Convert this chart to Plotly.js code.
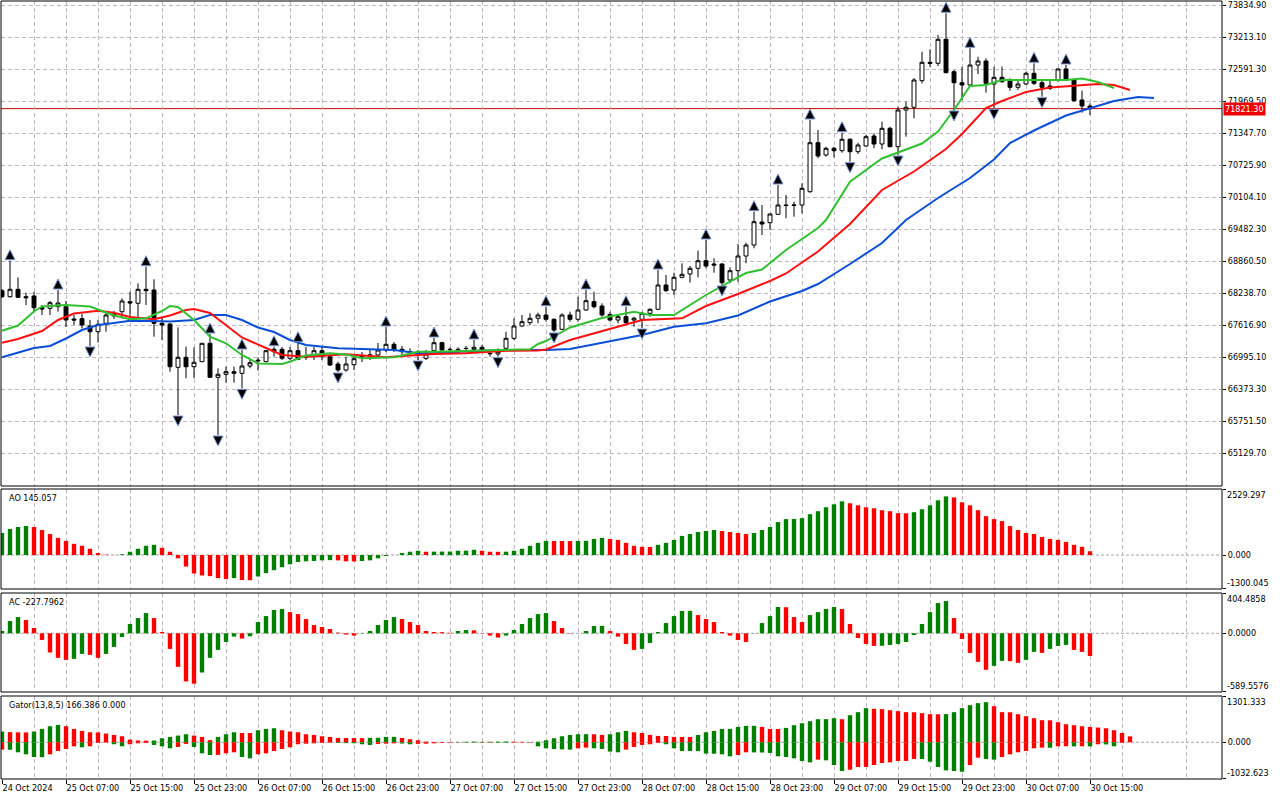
<!DOCTYPE html>
<html><head><meta charset="utf-8">
<script src="https://cdn.plot.ly/plotly-3.0.1.min.js"></script>
<style>html,body{margin:0;padding:0;background:#fff}#chart{width:1280px;height:800px}</style>
</head><body><div id="chart"></div>
<script>
// ---------- DATA (BTC H1) ----------
const timeLabels = ["24 Oct 2024","25 Oct 07:00","25 Oct 15:00","25 Oct 23:00","26 Oct 07:00","26 Oct 15:00","26 Oct 23:00","27 Oct 07:00","27 Oct 15:00","27 Oct 23:00","28 Oct 07:00","28 Oct 15:00","28 Oct 23:00","29 Oct 07:00","29 Oct 15:00","29 Oct 23:00","30 Oct 07:00","30 Oct 15:00"];
const priceTicks = [73834.90,73213.10,72591.30,71969.50,71347.70,70725.90,70104.10,69482.30,68860.50,68238.70,67616.90,66995.10,66373.30,65751.50,65129.70];
const lastPrice = 71821.30;
const aoScale = [2529.297, -1300.045];
const acScale = [404.4858, -589.5576];
const gatorScale = [1301.333, -1032.623];

const open = [68283.5,68166.9,68310.7,68166.9,68180.5,67953.2,67941.5,67972.6,67972.6,67733.6,
67739.5,67597.6,67486.8,67650.1,67791.9,67875.5,68069.8,68038.7,68310.7,68297.1,
67650.1,67636.5,66795.1,66989.4,66806.7,66903.9,67261.4,66600.8,66659.1,66709.6,
66678.5,66820.4,66917.5,66903.9,67144.8,67144.8,66969.9,67117.6,67001.1,67001.1,
67117.6,67001.1,66859.2,66742.6,66845.6,66995.2,67014.7,67034.1,67131.2,67242.0,
67144.8,67098.2,67053.5,66969.9,67117.6,67273.1,67144.8,67144.8,67164.3,67144.8,
67183.7,67067.2,67053.5,67164.3,67358.6,67597.6,67661.7,67747.2,67811.3,67727.8,
67533.5,67811.3,67727.8,67908.5,68069.8,67986.2,67821.9,67714.2,67778.3,67714.2,
67727.8,67844.4,67922.1,68394.3,68297.1,68543.9,68608.0,68718.8,68866.4,68802.3,
68802.3,68491.4,68672.1,68957.8,69171.5,69618.4,69604.8,69768.0,69948.7,69939.0,
69948.7,70207.2,71159.3,70920.3,71050.5,71003.8,71225.4,70984.4,71095.2,71289.5,
71134.0,71439.2,71081.6,71794.7,71847.2,72364.0,72721.5,72702.1,73168.5,72538.9,
72325.2,72280.5,72669.1,72746.8,72299.9,72430.1,72364.0,72235.8,72299.9,72507.8,
72325.2,72261.0,72377.6,72591.4,72377.6,71989.0,71872.4];
const high = [68316.5,68866.4,68543.9,68244.6,68264.1,68005.6,68083.4,68297.1,68083.4,67811.3,
67830.8,67714.2,67714.2,67875.5,67889.1,68135.8,68264.1,68427.3,68749.9,68505.0,
67753.0,67650.0,67572.3,67195.4,67183.7,67267.3,67442.1,66775.7,66806.7,66806.7,
67131.2,66936.9,66989.4,67131.2,67195.4,67189.5,67189.5,67273.1,67189.5,67189.5,
67189.5,67034.1,66903.9,67001.1,67034.1,67092.4,67131.2,67267.3,67578.2,67286.7,
67209.0,67164.3,67131.2,67131.2,67364.4,67292.5,67183.7,67183.7,67209.0,67325.6,
67228.4,67131.2,67164.3,67486.8,67747.2,67811.3,67844.4,67856.0,67972.6,67747.2,
67844.4,67875.5,68166.9,68297.1,68264.1,68038.7,67875.5,67811.3,67972.6,67778.3,
67875.5,67941.5,68685.7,68588.6,68633.3,68815.9,68763.5,69060.7,69268.7,68913.1,
68815.9,68738.2,69190.9,69216.1,69818.6,69948.7,69787.5,70337.4,70143.1,70012.9,
70370.4,71600.4,71406.1,71081.6,71081.6,71353.6,71244.8,71159.3,71308.9,71341.9,
71567.3,71470.2,71858.8,71956.0,72410.7,72927.5,72974.2,73252.0,73673.7,72571.9,
72636.1,72993.6,72830.4,72799.3,72636.1,72636.1,72410.7,72377.6,72538.9,72702.1,
72377.6,72377.6,72605.0,72669.1,72391.2,72169.7,71924.9];
const low = [68141.7,68151.4,68141.7,68005.6,67875.5,67811.3,67811.3,67875.5,67578.2,67617.0,
67552.9,67209.0,67273.1,67486.8,67733.6,67747.2,67778.3,67747.2,68005.6,67389.7,
67325.6,66709.6,65868.2,66581.3,66581.3,66898.1,66587.2,65479.6,66495.9,66495.9,
66387.0,66775.7,66729.0,66898.1,67001.1,66936.9,66936.9,66936.9,66936.9,66936.9,
66936.9,66820.4,66703.8,66709.6,66742.6,66898.1,66936.9,66975.8,67092.4,67092.4,
67034.1,67034.1,66936.9,66936.9,67067.2,67034.1,67098.2,67067.2,67098.2,67098.2,
67092.4,67001.1,67001.1,67131.2,67325.6,67584.0,67617.0,67650.1,67681.2,67481.0,
67519.9,67681.2,67681.2,67894.9,67941.5,67778.3,67681.2,67650.1,67636.5,67584.0,
67558.7,67778.3,67908.5,68264.1,68200.0,68524.4,68439.0,68543.9,68718.8,68633.3,
68394.3,68427.3,68458.4,68815.9,69107.4,69365.8,69463.0,69754.4,69690.3,69721.4,
69787.5,70187.7,70856.2,70887.3,70875.6,70965.0,70790.1,70939.7,71081.6,71050.5,
71031.1,71069.9,70920.3,71275.9,71633.4,72313.5,72636.1,72649.7,72510.0,71794.7,
71989.0,72261.0,72494.2,72130.8,71827.7,72325.2,72169.7,72183.3,72280.5,72280.5,
72053.1,72183.3,72344.6,72364.0,71956.0,71742.2,71697.5];
const close = [68166.9,68310.7,68155.3,68147.5,67953.2,67927.9,68050.3,68044.5,67714.2,67714.2,
67617.0,67486.8,67630.6,67811.3,67830.8,68083.4,68044.5,68310.7,68283.5,67650.1,
67617.0,66806.7,66989.4,66806.7,66892.2,67261.4,66600.8,66659.1,66709.6,66678.5,
66820.4,66884.5,66931.1,67117.6,67098.2,66969.9,67117.6,66950.5,66989.4,67117.6,
67001.1,66839.8,66742.6,66859.2,66962.2,67014.7,67034.1,67131.2,67242.0,67131.2,
67098.2,67086.6,67092.4,67053.5,67273.1,67131.2,67140.0,67137.1,67160.0,67183.7,
67117.6,67059.3,67098.2,67358.6,67597.6,67681.2,67747.2,67811.3,67727.8,67519.9,
67811.3,67727.8,67908.5,68089.2,67972.6,67811.3,67714.2,67778.3,67661.7,67747.2,
67844.4,67922.1,68394.3,68283.5,68543.9,68602.1,68718.8,68866.4,68763.5,68782.9,
68439.0,68672.1,68957.8,69171.5,69624.2,69579.6,69773.9,69948.7,69939.0,69948.7,
70273.2,71159.3,70900.9,71050.5,71003.8,71225.4,70984.4,71114.6,71275.9,71134.0,
71439.2,71081.6,71794.7,71847.2,72377.6,72721.5,72702.1,73168.5,72519.5,72325.2,
72280.5,72669.1,72746.8,72313.5,72430.1,72344.6,72235.8,72299.9,72507.8,72313.5,
72235.8,72216.3,72591.4,72377.6,71975.4,71872.4,71821.3];

// Alligator (jaw / teeth / lips), sampled along the drawn lines
const jawX = [0,4,6,8,10,12,14,16,19,21,24,26,28,30,32,34,36,38,42,45,49,52,54,57,60,66,68,71,75,80,84,88,92,96,100,102,106,110,113,117,121,124,126,129,133,136,139,142,144];
const jawY = [66989.4,67170.1,67209.0,67354.7,67519.9,67617.0,67655.9,67698.6,67694.7,67685.0,67714.2,67811.3,67811.3,67714.2,67568.4,67481.0,67325.6,67228.4,67164.3,67144.8,67131.2,67067.2,67067.2,67098.2,67117.6,67131.2,67131.2,67150.7,67277.0,67422.7,67584.0,67650.1,67801.6,68073.6,68277.7,68413.7,68802.3,69210.4,69657.3,70084.8,70473.4,70832.9,71153.5,71396.4,71687.8,71827.7,71969.6,72047.3,72027.9];
const teethX = [0,2,5,7,9,12,14,16,19,21,23,24,26,28,30,33,35,38,41,43,46,48,52,54,58,63,67,68,71,76,80,85,88,92,96,98,102,106,110,114,118,120,123,125,128,131,135,137,139,141];
const teethY = [67273.1,67345.0,67500.4,67714.2,67840.5,67894.9,67856.0,67772.5,67727.8,67801.6,67908.5,67927.9,67850.2,67617.0,67374.1,67170.1,67034.1,67001.1,67020.5,67047.7,67014.7,66989.4,67034.1,67053.5,67067.2,67117.6,67121.5,67141.0,67325.6,67539.3,67714.2,67747.2,67986.2,68219.4,68472.0,68617.7,69045.2,69579.6,70240.2,70599.7,71036.9,71328.3,71833.6,71969.6,72144.4,72231.9,72280.5,72299.9,72280.5,72183.3];
const lipsX = [0,2,4,5,8,11,12,14,16,18,20,21,22,24,26,28,30,32,35,36,38,41,43,45,49,52,54,59,66,67,68,71,75,79,81,84,88,90,93,95,98,102,103,106,110,115,117,119,121,123,125,129,133,135,137,139];
const lipsY = [67506.3,67607.3,67879.3,67976.5,68005.6,67976.5,67918.2,67801.6,67727.8,67747.2,67889.1,67986.2,67966.8,67714.2,67389.7,67261.4,67034.1,66868.9,66859.2,66903.9,67024.4,67067.2,67043.8,66969.9,66989.4,67098.2,67098.2,67117.6,67144.8,67247.8,67306.1,67568.4,67753.0,67875.5,67811.3,67811.3,68200.0,68374.8,68627.4,68695.4,69074.3,69501.8,69657.3,70401.5,70852.3,71143.8,71376.9,71794.7,72261.0,72280.5,72377.6,72377.6,72377.6,72406.8,72338.8,72222.2];

// Fractals (bar indices)
const fracUp = [1,7,18,26,30,34,37,48,54,59,68,73,78,82,88,94,97,101,105,118,121,129,133];
const fracDn = [11,22,27,30,42,52,62,69,80,90,106,112,119,124,130];

// Awesome Oscillator
const ao = [846,998,1074,1111,1074,960,808,657,543,429,
354,240,76,15,5,30,126,240,354,392,
278,126,-126,-442,-707,-783,-808,-884,-922,-884,
-960,-965,-821,-695,-581,-467,-354,-265,-240,-227,
-202,-195,-205,-240,-245,-230,-202,-126,-38,5,
76,126,164,126,130,132,135,164,166,202,
164,126,124,128,164,240,354,467,543,540,
538,535,540,545,619,657,619,581,467,354,
316,310,392,467,581,733,808,884,922,960,
922,884,846,808,846,960,1074,1263,1377,1385,
1415,1566,1680,1831,1945,2059,1983,1907,1831,1793,
1718,1680,1604,1600,1642,1756,1907,2097,2248,2210,
2021,1907,1718,1490,1377,1301,1111,960,846,808,
695,619,581,505,392,316,145.057];

// Accelerator Oscillator
const ac = [23,123,163,133,53,-67,-193,-247,-267,-257,
-207,-217,-247,-207,-137,-37,93,153,203,153,
13,-157,-337,-484,-507,-394,-247,-167,-87,-33,
-53,-30,113,173,234,244,213,193,143,83,
63,43,7,-13,-23,-3,23,83,133,163,
143,113,83,23,13,11,5,23,33,30,
3,-23,-43,-23,33,93,153,193,203,123,
53,3,1,23,73,75,23,-33,-107,-167,
-157,-97,13,103,173,224,226,183,143,113,
13,-23,-67,-87,-2,103,173,264,262,163,
113,183,213,244,264,244,93,-47,-107,-127,
-125,-117,-107,-87,-17,93,213,304,324,153,
-57,-197,-287,-367,-327,-277,-280,-297,-267,-187,
-197,-157,-127,-117,-167,-187,-227.7962];

// Gator oscillator (upper / lower histograms)
const gatorUp = [301,285,280,278,301,376,452,489,452,376,
320,282,278,245,207,169,75,52,45,50,
113,151,188,226,188,151,60,151,226,282,
263,260,339,376,395,339,301,282,226,207,
169,151,122,120,118,116,125,128,151,153,
122,85,56,19,10,8,6,10,14,18,
12,15,18,20,15,12,8,15,56,113,
169,207,226,228,225,207,226,282,320,282,
263,207,179,177,151,149,147,207,282,320,
376,378,433,461,463,433,376,374,405,480,
536,593,649,651,678,649,762,847,960,941,
932,903,875,847,845,819,790,788,792,847,
960,1044,1101,1129,1016,847,845,790,734,678,
621,619,565,508,480,452,433,414,395,339,
263,166.386];
const gatorDn = [-207,-210,-282,-339,-414,-420,-339,-245,-188,-113,
-141,-113,-19,-10,-56,-113,-56,-30,-20,-75,
-113,-169,-132,-47,-132,-311,-358,-355,-311,-282,
-414,-452,-339,-311,-245,-188,-141,-56,-40,-30,
-20,-10,-19,-25,-28,-56,-75,-47,-40,-30,
-35,-56,-45,-40,-30,-20,-10,-5,-8,-10,
-12,-10,-12,-14,-10,-8,-5,-113,-169,-190,
-200,-207,-169,-151,-169,-188,-263,-282,-207,-132,
-75,-56,-19,-56,-169,-245,-247,-249,-320,-322,
-339,-395,-358,-282,-285,-288,-300,-395,-414,-452,
-527,-565,-489,-508,-640,-809,-772,-696,-694,-640,
-583,-565,-527,-525,-470,-472,-546,-696,-790,-809,
-828,-640,-433,-470,-489,-414,-339,-282,-245,-169,
-151,-153,-113,-110,-115,-112,-115,-56,-60,-113,
-19,0];

// ---------- STYLE / LAYOUT ----------
const GREEN = '#008000', RED = '#ff0000', GRID = '#c2b6c6';
const FONT = {family: "'DejaVu Sans Condensed', 'Liberation Sans', sans-serif", size: 9, color: '#000'};
const PLOT_H = 780;
function dom(topPx, botPx){ return [1 - botPx / PLOT_H, 1 - topPx / PLOT_H]; }
const dMain = dom(1, 486), dAO = dom(489, 589), dAC = dom(593, 692), dGT = dom(696, 779);
const mainRange = [64488.6, 73912.6];
const pxPrice = (mainRange[1] - mainRange[0]) / 485;   // price per pixel in main panel
const FR_OFF = 11 * pxPrice;                           // fractal arrow offset (style)

const idx = open.map((_, i) => i);
const idxG = gatorUp.map((_, i) => i);
const labelIdx = timeLabels.map((_, i) => i * 8);
const minorIdx = []; for (let k = 4; k <= 152; k += 8) minorIdx.push(k);

const riseColors = (v, first) => v.map((x, i) => i === 0 ? first : (x > v[i-1] ? GREEN : RED));
const growColors = (v, first) => v.map((x, i) => i === 0 ? first : (Math.abs(x) > Math.abs(v[i-1]) ? GREEN : RED));

const traces = [
  {type:'candlestick', x: idx, open, high, low, close, xaxis:'x', yaxis:'y',
   increasing:{line:{color:'#000', width:1}, fillcolor:'#ffffff'},
   decreasing:{line:{color:'#000', width:1}, fillcolor:'#000000'},
   whiskerwidth:0, hoverinfo:'skip'},
  {type:'scatter', mode:'lines', x: jawX, y: jawY, line:{color:'#0a4fd6', width:2}, xaxis:'x', yaxis:'y', hoverinfo:'skip'},
  {type:'scatter', mode:'lines', x: teethX, y: teethY, line:{color:'#ff1010', width:2}, xaxis:'x', yaxis:'y', hoverinfo:'skip'},
  {type:'scatter', mode:'lines', x: lipsX, y: lipsY, line:{color:'#30c030', width:2}, xaxis:'x', yaxis:'y', hoverinfo:'skip'},
  {type:'scatter', mode:'markers', x: fracUp, y: fracUp.map(k => high[k] + FR_OFF),
   marker:{symbol:'arrow-up', size:10, color:'#000', line:{color:'#7d9bd4', width:1}}, xaxis:'x', yaxis:'y', hoverinfo:'skip'},
  {type:'scatter', mode:'markers', x: fracDn, y: fracDn.map(k => low[k] - FR_OFF),
   marker:{symbol:'arrow-down', size:10, color:'#000', line:{color:'#7d9bd4', width:1}}, xaxis:'x', yaxis:'y', hoverinfo:'skip'},
  {type:'bar', x: idx, y: ao, width:0.55, marker:{color: riseColors(ao, GREEN), line:{width:0}}, xaxis:'x', yaxis:'y2', hoverinfo:'skip'},
  {type:'bar', x: idx, y: ac, width:0.55, marker:{color: riseColors(ac, GREEN), line:{width:0}}, xaxis:'x', yaxis:'y3', hoverinfo:'skip'},
  {type:'bar', x: idxG, y: gatorUp, width:0.55, marker:{color: riseColors(gatorUp, GREEN), line:{width:0}}, xaxis:'x', yaxis:'y4', hoverinfo:'skip'},
  {type:'bar', x: idxG, y: gatorDn, width:0.55, marker:{color: growColors(gatorDn, RED), line:{width:0}}, xaxis:'x', yaxis:'y4', hoverinfo:'skip'}
];

const yCommon = {anchor:'x', side:'right', zeroline:false, ticks:'outside', ticklen:3, tickcolor:'#000',
  tickfont: FONT, showline:false, fixedrange:true, tickmode:'array'};

// oscillator axis: ticks at top / zero / bottom, only the zero label on the axis; end labels as annotations set inside the panel
function oscAxis(d, sc, zeroTxt){
  const pad = (sc[0] - sc[1]) * 0.0004;
  return Object.assign({}, yCommon, {domain:d, range:[sc[1] - pad, sc[0] + pad],
    tickvals:[sc[0], 0, sc[1]], ticktext:['', zeroTxt, ''], showgrid:false});
}
function endLabel(yref, v, top){
  return {text: String(v.toFixed ? v : v), xref:'paper', x:1, xanchor:'left', xshift:3, yref:yref, y:v,
    yanchor: top ? 'top' : 'bottom', yshift: top ? 1 : -1, showarrow:false, font:FONT};
}

const subLabel = (t, d) => ({text:t, xref:'paper', x:0, xanchor:'left', xshift:6, yref:'paper', y:d[1], yanchor:'top', yshift:-2, showarrow:false, font:FONT});
const zeroLine = (yr) => ({type:'line', xref:'paper', x0:0, x1:1, yref:yr, y0:0, y1:0, line:{color:'#a8a8a8', width:1, dash:'3px,2px'}, layer:'below'});
const frame = (d) => ({type:'rect', xref:'paper', x0:0, x1:1, yref:'paper', y0:d[0], y1:d[1], line:{color:'#000', width:1}, fillcolor:'rgba(0,0,0,0)'});

const layout = {
  width:1280, height:800, margin:{l:1, r:58, t:0, b:20},
  paper_bgcolor:'#ffffff', plot_bgcolor:'#ffffff', showlegend:false,
  barmode:'overlay', font: FONT, hovermode:false,
  xaxis:{anchor:'y4', domain:[0,1], range:[-0.125, 152.5], tickmode:'array', tickvals: labelIdx, ticktext: timeLabels,
    ticks:'outside', ticklen:4, tickcolor:'#000', ticklabelposition:'outside right', tickfont: FONT,
    showgrid:true, gridcolor:GRID, griddash:'4px,3px', gridwidth:1,
    minor:{tickmode:'array', tickvals: minorIdx, showgrid:true, gridcolor:GRID, griddash:'4px,3px', ticks:''},
    zeroline:false, showline:false, rangeslider:{visible:false}, fixedrange:true},
  yaxis: Object.assign({}, yCommon, {domain: dMain, range: mainRange, tickvals: priceTicks, ticktext: priceTicks.map(v => v.toFixed(2)),
    showgrid:true, gridcolor:GRID, griddash:'4px,3px'}),
  yaxis2: oscAxis(dAO, aoScale, '0.000'),
  yaxis3: oscAxis(dAC, acScale, '0.0000'),
  yaxis4: oscAxis(dGT, gatorScale, '0.000'),
  shapes:[
    zeroLine('y2'), zeroLine('y3'), zeroLine('y4'),
    {type:'line', xref:'paper', x0:0, x1:1, yref:'y', y0:lastPrice, y1:lastPrice, line:{color:'#c80000', width:1}, layer:'below'},
    frame(dMain), frame(dAO), frame(dAC), frame(dGT)
  ],
  annotations:[
    subLabel('AO 145.057', dAO),
    subLabel('AC -227.7962', dAC),
    subLabel('Gator(13,8,5) 166.386 0.000', dGT),
    Object.assign(endLabel('y2', aoScale[0], true), {text: aoScale[0].toFixed(3)}),
    Object.assign(endLabel('y2', aoScale[1], false), {text: aoScale[1].toFixed(3)}),
    Object.assign(endLabel('y3', acScale[0], true), {text: acScale[0].toFixed(4)}),
    Object.assign(endLabel('y3', acScale[1], false), {text: acScale[1].toFixed(4)}),
    Object.assign(endLabel('y4', gatorScale[0], true), {text: gatorScale[0].toFixed(3)}),
    Object.assign(endLabel('y4', gatorScale[1], false), {text: gatorScale[1].toFixed(3)}),
    {text: lastPrice.toFixed(2), xref:'paper', x:1, xanchor:'left', xshift:1, yref:'y', y:lastPrice, yanchor:'middle',
     showarrow:false, bgcolor:'#ee0000', borderpad:1, font:{family:FONT.family, size:9, color:'#ffffff'}}
  ]
};

Plotly.newPlot('chart', traces, layout, {staticPlot:true, displayModeBar:false});
</script></body></html>
